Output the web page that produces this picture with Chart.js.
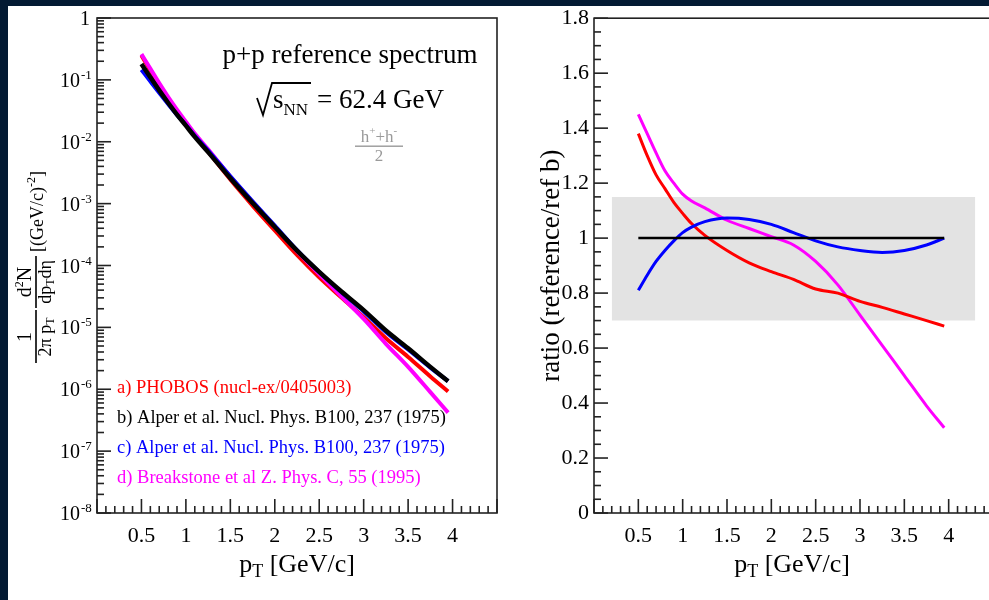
<!DOCTYPE html>
<html>
<head>
<meta charset="utf-8">
<script src="https://cdn.jsdelivr.net/npm/chart.js@4.4.0/dist/chart.umd.min.js"></script>
<style>
	html, body { margin: 0; padding: 0; width: 989px; height: 600px; overflow: hidden; background: #031a33; }
	#paper { position: absolute; left: 8px; top: 6px; width: 990px; height: 600px; background: #fff; }
	#spectrum { position: absolute; left: 0; top: 0; width: 500px; height: 600px; }
	#ratio { position: absolute; left: 500px; top: 0; width: 500px; height: 600px; }
</style>
</head>
<body>
<div id="paper"></div>
<canvas id="spectrum" width="500" height="600"></canvas>
<canvas id="ratio" width="500" height="600"></canvas>
<script>
// pT grid shared by all curves (GeV/c)
const pT = [0.5, 0.6, 0.7, 0.8, 0.9, 1.0, 1.1, 1.25, 1.5, 1.75, 2.0, 2.25, 2.5, 2.75, 3.0, 3.25, 3.5, 3.75, 3.95];

// invariant yields, left panel
const specAlperB = [0.18, 0.110, 0.0676, 0.0427, 0.0275, 0.0182, 0.0120, 6.8e-3, 2.57e-3, 1.02e-3, 4.2e-4, 1.74e-4, 7.9e-5, 3.8e-5, 1.9e-5, 8.9e-6, 4.6e-6, 2.3e-6, 1.35e-6];
const specAlperC = [0.146, 0.0952, 0.0619, 0.0408, 0.0272, 0.0186, 0.0125, 7.21e-3, 2.76e-3, 1.09e-3, 4.41e-4, 1.77e-4, 7.82e-5, 3.68e-5, 1.81e-5, 8.44e-6, 4.39e-6, 2.24e-6, 1.35e-6];
const specPhobos = [0.248, 0.143, 0.0831, 0.0504, 0.0311, 0.0198, 0.0126, 6.87e-3, 2.45e-3, 9.3e-4, 3.69e-4, 1.48e-4, 6.44e-5, 3.04e-5, 1.46e-5, 6.66e-6, 3.33e-6, 1.61e-6, 9.2e-7];
const specBreakstone = [0.261, 0.152, 0.0886, 0.0532, 0.0330, 0.0211, 0.0136, 7.55e-3, 2.74e-3, 1.06e-3, 4.22e-4, 1.70e-4, 7.23e-5, 3.15e-5, 1.37e-5, 5.43e-6, 2.3e-6, 8.97e-7, 4.19e-7];

// ratios to ref b, right panel
const ratioAlperB = [1, 1, 1, 1, 1, 1, 1, 1, 1, 1, 1, 1, 1, 1, 1, 1, 1, 1, 1];
const ratioAlperC = [0.81, 0.865, 0.915, 0.955, 0.99, 1.02, 1.04, 1.06, 1.073, 1.068, 1.05, 1.02, 0.99, 0.968, 0.955, 0.948, 0.955, 0.975, 1.0];
const ratioPhobos = [1.38, 1.30, 1.23, 1.18, 1.13, 1.09, 1.053, 1.01, 0.955, 0.91, 0.878, 0.85, 0.815, 0.80, 0.77, 0.748, 0.724, 0.70, 0.68];
const ratioBreakstone = [1.45, 1.38, 1.31, 1.245, 1.20, 1.16, 1.135, 1.11, 1.065, 1.035, 1.005, 0.975, 0.915, 0.83, 0.72, 0.61, 0.50, 0.39, 0.31];

// grey systematic band
const bandX = [0.2, 4.3];
const bandLow = 0.7;
const bandHigh = 1.15;

const xTicks = [0.5, 1, 1.5, 2, 2.5, 3, 3.5, 4];
const logDecades = [-8, -7, -6, -5, -4, -3, -2, -1, 0];
const legendLabels = [
	"a) PHOBOS (nucl-ex/0405003)",
	"b) Alper et al. Nucl. Phys. B100, 237 (1975)",
	"c) Alper et al. Nucl. Phys. B100, 237 (1975)",
	"d) Breakstone et al Z. Phys. C, 55 (1995)",
];
const legendColours = ["#ff0000", "#000000", "#0000ff", "#ff00ff"];

const FONT = '"Liberation Serif", "DejaVu Serif", serif';
Chart.defaults.font.family = FONT;
Chart.defaults.color = "#000";

function pts(ys) {
	return pT.map((x, i) => ({ x: x, y: ys[i] }));
}

function line(ctx, x1, y1, x2, y2) {
	ctx.beginPath();
	ctx.moveTo(x1, y1);
	ctx.lineTo(x2, y2);
	ctx.stroke();
}

// plain number label, 1 instead of 1.0
function plain(v) {
	return String(Math.round(v * 100) / 100);
}

// text made of pieces with different size / offset (sub and superscripts)
function rich(ctx, parts, x, y, align) {
	let w = 0;
	parts.forEach((p) => {
		ctx.font = p.size + "px " + FONT;
		p.w = ctx.measureText(p.t).width;
		w += p.w;
	});
	let cx = align === "center" ? x - w / 2 : align === "right" ? x - w : x;
	ctx.textAlign = "left";
	parts.forEach((p) => {
		ctx.font = p.size + "px " + FONT;
		ctx.fillText(p.t, cx, y + (p.dy || 0));
		cx += p.w;
	});
}

// ROOT style frame with ticks pointing inwards
function frameAndTicks(chart, logY) {
	const { ctx, chartArea: a, scales } = chart;
	ctx.save();
	ctx.strokeStyle = "#222";
	ctx.lineWidth = 1.6;
	ctx.strokeRect(a.left, a.top, a.right - a.left, a.bottom - a.top);
	for (let i = 0; i <= 45; i++) {
		const px = scales.x.getPixelForValue(i / 10);
		line(ctx, px, a.bottom, px, a.bottom - (i % 5 === 0 ? 14 : 7));
	}
	if (logY) {
		logDecades.forEach((e) => {
			const py = scales.y.getPixelForValue(Math.pow(10, e));
			line(ctx, a.left, py, a.left + 14, py);
			if (e < 0) {
				for (let m = 2; m <= 9; m++) {
					const pm = scales.y.getPixelForValue(m * Math.pow(10, e));
					line(ctx, a.left, pm, a.left + 7, pm);
				}
			}
		});
	} else {
		for (let i = 0; i <= 36; i++) {
			const py = scales.y.getPixelForValue(i * 0.05);
			line(ctx, a.left, py, a.left + (i % 4 === 0 ? 14 : 7), py);
		}
	}
	ctx.restore();
}

const spectrumDecor = {
	id: "spectrumDecor",
	afterDraw(chart) {
		const { ctx, scales } = chart;
		frameAndTicks(chart, true);
		ctx.save();
		ctx.fillStyle = "#000";
		ctx.textBaseline = "alphabetic";
		// log axis labels 10^n
		logDecades.forEach((e) => {
			const py = scales.y.getPixelForValue(Math.pow(10, e));
			if (e === 0) {
				rich(ctx, [{ t: "1", size: 20 }], 90, py + 7, "right");
			} else {
				rich(ctx, [{ t: "10", size: 20 }], 80, py + 7, "right");
				rich(ctx, [{ t: String(e), size: 13 }], 81, py - 1, "left");
			}
		});
		// y title, rotated
		ctx.save();
		ctx.translate(36, 0);
		ctx.rotate(-Math.PI / 2);
		ctx.fillRect(-363, -0.8, 53, 1.6);
		ctx.fillRect(-308, -0.8, 52, 1.6);
		rich(ctx, [{ t: "1", size: 20 }], -337, -5, "center");
		rich(ctx, [{ t: "2π p", size: 18 }, { t: "T", size: 12, dy: 3 }], -337, 15, "center");
		rich(ctx, [{ t: "d", size: 20 }, { t: "2", size: 12, dy: -8 }, { t: "N", size: 20 }], -282, -5, "center");
		rich(ctx, [{ t: "dp", size: 18 }, { t: "T", size: 12, dy: 3 }, { t: "dη", size: 18 }], -282, 15, "center");
		rich(ctx, [{ t: "[(GeV/c)", size: 18 }, { t: "-2", size: 12, dy: -8 }, { t: "]", size: 18 }], -252, 7, "left");
		ctx.restore();
		// x title
		rich(ctx, [{ t: "p", size: 26 }, { t: "T", size: 18, dy: 5 }, { t: " [GeV/c]", size: 26 }], 297, 572, "center");
		// header text
		rich(ctx, [{ t: "p+p reference spectrum", size: 27 }], 350, 63, "center");
		ctx.strokeStyle = "#000";
		ctx.lineWidth = 1.8;
		ctx.beginPath();
		ctx.moveTo(257, 98);
		ctx.lineTo(263, 115);
		ctx.lineTo(272, 83);
		ctx.lineTo(311, 83);
		ctx.stroke();
		rich(ctx, [{ t: "s", size: 27 }, { t: "NN", size: 17, dy: 7 }], 273, 108, "left");
		rich(ctx, [{ t: "= 62.4 GeV", size: 27 }], 317, 108, "left");
		ctx.fillStyle = "#9a9a9a";
		rich(ctx, [{ t: "h", size: 17 }, { t: "+", size: 11, dy: -8 }, { t: "+h", size: 17 }, { t: "-", size: 11, dy: -8 }], 379, 142, "center");
		ctx.fillRect(355, 145.5, 48, 1.4);
		rich(ctx, [{ t: "2", size: 17 }], 379, 161, "center");
		// legend
		legendLabels.forEach((txt, i) => {
			ctx.fillStyle = legendColours[i];
			rich(ctx, [{ t: txt, size: 18.5 }], 117, 393 + i * 30, "left");
		});
		ctx.restore();
	},
};

const ratioDecor = {
	id: "ratioDecor",
	afterDraw(chart) {
		const { ctx } = chart;
		frameAndTicks(chart, false);
		ctx.save();
		ctx.fillStyle = "#000";
		rich(ctx, [{ t: "p", size: 26 }, { t: "T", size: 18, dy: 5 }, { t: " [GeV/c]", size: 26 }], 292, 572, "center");
		ctx.restore();
	},
};

function xScale() {
	return {
		type: "linear",
		min: 0,
		max: 4.5,
		grid: { display: false, drawTicks: false },
		border: { display: false },
		ticks: { font: { size: 22 }, padding: 10, color: "#000", callback: plain },
		afterBuildTicks: (s) => {
			s.ticks = xTicks.map((v) => ({ value: v }));
		},
		afterFit: (s) => {
			s.height = 87;
		},
	};
}

function curve(data, colour, width) {
	return {
		data: data,
		borderColor: colour,
		borderWidth: width,
		pointRadius: 0,
		fill: false,
		cubicInterpolationMode: "monotone",
	};
}

// first dataset is drawn on top
new Chart(document.getElementById("spectrum"), {
	type: "line",
	data: {
		datasets: [
			curve(pts(specAlperB), "#000000", 4.5),
			curve(pts(specAlperC), "#0000ff", 4),
			curve(pts(specBreakstone), "#ff00ff", 4),
			curve(pts(specPhobos), "#ff0000", 4),
		],
	},
	options: {
		responsive: false,
		animation: false,
		layout: { padding: { top: 18, right: 3, left: 0, bottom: 0 } },
		plugins: { legend: { display: false }, tooltip: { enabled: false } },
		scales: {
			x: xScale(),
			y: {
				type: "logarithmic",
				min: 1e-8,
				max: 1,
				grid: { display: false, drawTicks: false },
				border: { display: false },
				ticks: { display: false },
				afterFit: (s) => {
					s.width = 97;
				},
			},
		},
	},
	plugins: [spectrumDecor],
});

new Chart(document.getElementById("ratio"), {
	type: "line",
	data: {
		datasets: [
			curve(pts(ratioAlperB), "#000000", 2.5),
			curve(pts(ratioAlperC), "#0000ff", 3),
			curve(pts(ratioPhobos), "#ff0000", 3),
			curve(pts(ratioBreakstone), "#ff00ff", 3),
			{
				data: bandX.map((x) => ({ x: x, y: bandHigh })),
				borderWidth: 0,
				pointRadius: 0,
				backgroundColor: "#e3e3e3",
				fill: { value: bandLow },
			},
		],
	},
	options: {
		responsive: false,
		animation: false,
		layout: { padding: { top: 18, right: 7, left: 0, bottom: 0 } },
		plugins: { legend: { display: false }, tooltip: { enabled: false } },
		scales: {
			x: xScale(),
			y: {
				type: "linear",
				min: 0,
				max: 1.8,
				grid: { display: false, drawTicks: false },
				border: { display: false },
				ticks: { stepSize: 0.2, font: { size: 22 }, padding: 5, color: "#000", callback: plain },
				title: {
					display: true,
					text: "ratio (reference/ref b)",
					font: { size: 27 },
					color: "#000",
					padding: { top: 36, bottom: 0 },
				},
				afterFit: (s) => {
					s.width = 94;
				},
			},
		},
	},
	plugins: [ratioDecor],
});
</script>
</body>
</html>
